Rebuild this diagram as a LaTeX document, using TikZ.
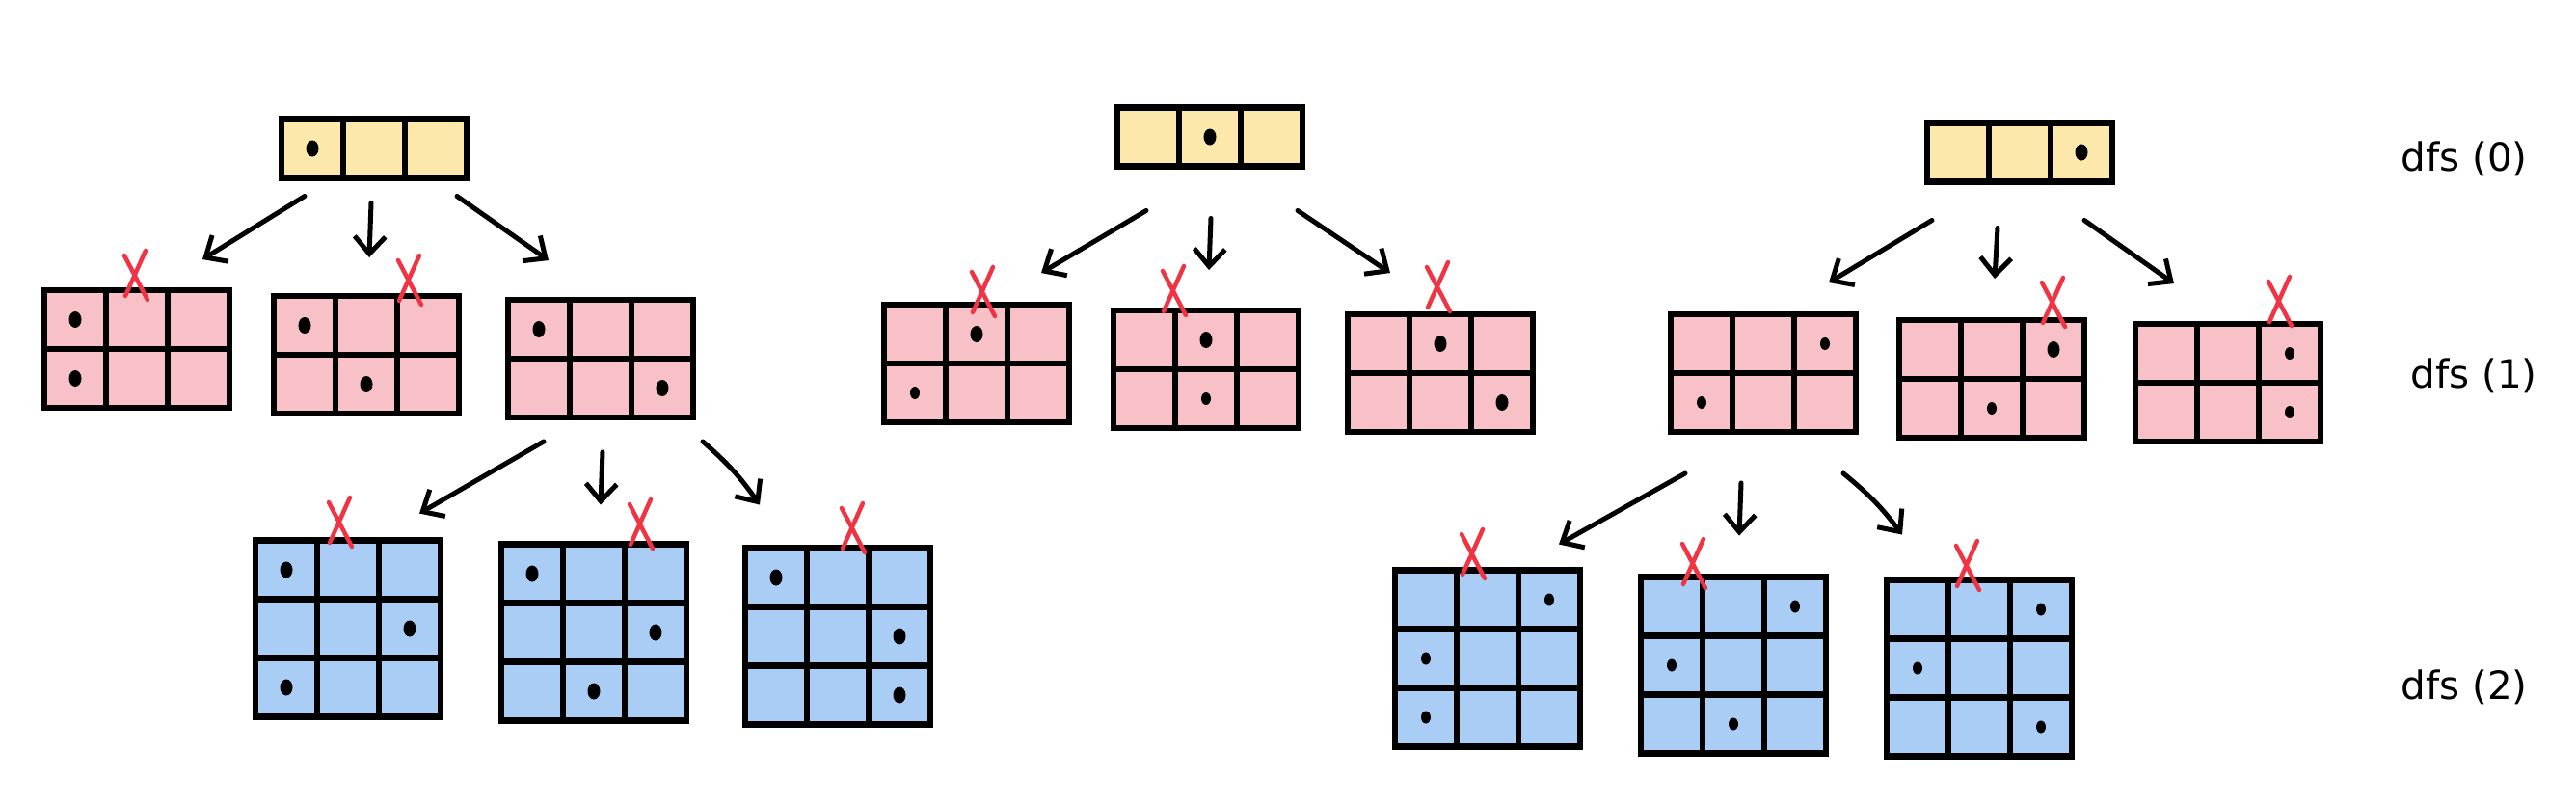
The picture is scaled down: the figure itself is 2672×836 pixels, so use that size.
\documentclass[tikz,border=0pt]{standalone}
\usepackage{fontspec}
\setmainfont{DejaVu Sans}
\usetikzlibrary{matrix,calc,arrows.meta}
\definecolor{cellyellow}{RGB}{252,232,170}
\definecolor{cellpink}{RGB}{248,192,199}
\definecolor{cellblue}{RGB}{170,205,246}
\definecolor{redink}{RGB}{240,52,68}
\tikzset{
  board/.style={matrix of nodes, nodes in empty cells, inner sep=0pt,
    column sep=-0.65mm, row sep=-0.65mm,
    nodes={draw, line width=0.65mm, inner sep=0pt, minimum width=6.4mm,
      minimum height=6.1mm, fill=#1}},
  stone/.style={path picture={\fill[black] (path picture bounding box.center) ellipse (0.65mm and 0.85mm);}},
  pebble/.style={path picture={\fill[black] (path picture bounding box.center) ellipse (0.5mm and 0.65mm);}},
  arr/.style={line width=0.5mm, line cap=round, -{Straight Barb[length=1.8mm,width=3.2mm]}},
  nope/.pic={\draw[redink, line width=0.45mm, line cap=round] (-12,-21) -- (12,25) (10,-26) -- (-11,21);},
  level/.style={font=\fontsize{11.5}{13}\selectfont}
}
\begin{document}
\begin{tikzpicture}[x=0.1mm, y=-0.1mm]
\useasboundingbox (0,0) rectangle (2672,836);

\matrix (r1) [board=cellyellow] at (388,154) {|[stone]| & & \\};
\matrix (a1) [board=cellpink] at (142,362) {|[stone]| & & \\ |[stone]| & & \\};
\matrix (a2) [board=cellpink] at (380,368) {|[stone]| & & \\ & |[stone]| & \\};
\matrix (a3) [board=cellpink] at (623,372) {|[stone]| & & \\ & & |[stone]| \\};
\matrix (b1) [board=cellblue] at (361,652) {|[stone]| & & \\ & & |[stone]| \\ |[stone]| & & \\};
\matrix (b2) [board=cellblue] at (616,656) {|[stone]| & & \\ & & |[stone]| \\ & |[stone]| & \\};
\matrix (b3) [board=cellblue] at (869,660) {|[stone]| & & \\ & & |[stone]| \\ & & |[stone]| \\};

\matrix (r2) [board=cellyellow] at (1255,142) {& |[stone]| & \\};
\matrix (c1) [board=cellpink] at (1013,377) {& |[stone]| & \\ |[pebble]| & & \\};
\matrix (c2) [board=cellpink] at (1251,383) {& |[stone]| & \\ & |[pebble]| & \\};
\matrix (c3) [board=cellpink] at (1494,387) {& |[stone]| & \\ & & |[stone]| \\};

\matrix (r3) [board=cellyellow] at (2095,158) {& & |[stone]| \\};
\matrix (d1) [board=cellpink] at (1829,387) {& & |[pebble]| \\ |[pebble]| & & \\};
\matrix (d2) [board=cellpink] at (2066,393) {& & |[stone]| \\ & |[pebble]| & \\};
\matrix (d3) [board=cellpink] at (2311,397) {& & |[pebble]| \\ & & |[pebble]| \\};
\matrix (e1) [board=cellblue] at (1543,683) {& & |[pebble]| \\ |[pebble]| & & \\ |[pebble]| & & \\};
\matrix (e2) [board=cellblue] at (1798,690) {& & |[pebble]| \\ |[pebble]| & & \\ & |[pebble]| & \\};
\matrix (e3) [board=cellblue] at (2053,693) {& & |[pebble]| \\ |[pebble]| & & \\ & & |[pebble]| \\};

\draw[arr] ($(r1.south)+(-72,15)$) -- ($(a1.north)+(68,-28)$);
\draw[arr] ($(r1.south)+(-3,22)$) -- ($(a2.north)+(3,-36)$);
\draw[arr] ($(r1.south)+(86,15)$) -- ($(a3.north)+(-54,-37)$);
\draw[arr] ($(a3.south)+(-59,21)$) -- ($(b1.north)+(74,-24)$);
\draw[arr] ($(a3.south)+(2,32)$) -- ($(b2.north)+(7,-37)$);
\draw[arr] ($(a3.south)+(106,21)$) to[bend left=7] ($(b3.north)+(-81,-41)$);

\draw[arr] ($(r2.south)+(-66,42)$) -- ($(c1.north)+(67,-29)$);
\draw[arr] ($(r2.south)+(1,50)$) -- ($(c2.north)+(3,-38)$);
\draw[arr] ($(r2.south)+(91,42)$) -- ($(c3.north)+(-52,-39)$);

\draw[arr] ($(r3.south)+(-91,36)$) -- ($(d1.north)+(68,-29)$);
\draw[arr] ($(r3.south)+(-23,44)$) -- ($(d2.north)+(3,-39)$);
\draw[arr] ($(r3.south)+(67,36)$) -- ($(d3.north)+(-56,-38)$);
\draw[arr] ($(d1.south)+(-81,39)$) -- ($(e1.north)+(74,-23)$);
\draw[arr] ($(d1.south)+(-23,49)$) -- ($(e2.north)+(6,-39)$);
\draw[arr] ($(d1.south)+(83,39)$) to[bend left=7] ($(e3.north)+(-80,-43)$);

\pic at (141,286) {nope};
\pic at (425,291) {nope};
\pic at (353,542) {nope};
\pic at (665,544) {nope};
\pic at (885,548) {nope};
\pic at (1020,303) {nope};
\pic at (1218,302) {nope};
\pic at (1492,298) {nope};
\pic at (2130,314) {nope};
\pic at (2365,313) {nope};
\pic at (1528,575) {nope};
\pic at (1757,585) {nope};
\pic at (2041,587) {nope};

\node[level] (l0) at (2556,165) {dfs (0)};
\node[level] (l1) at (2566,390) {dfs (1)};
\node[level] (l2) at (2556,713) {dfs (2)};
\end{tikzpicture}
\end{document}
